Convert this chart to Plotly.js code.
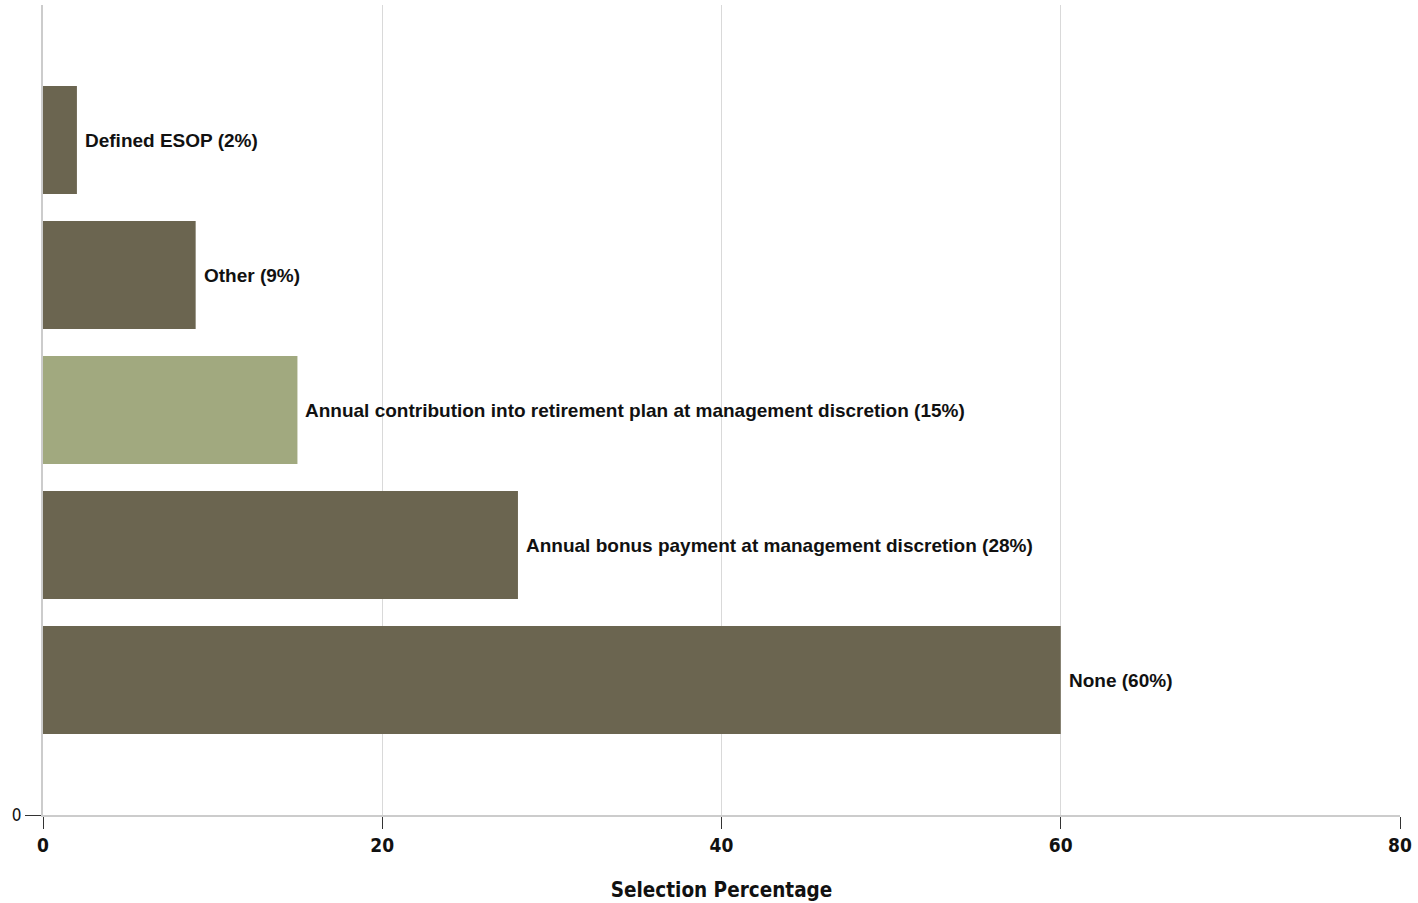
<!DOCTYPE html>
<html>
<head>
<meta charset="utf-8">
<script src="https://cdn.plot.ly/plotly-3.0.1.min.js"></script>
<style>html,body{margin:0;padding:0;background:#fff;}#chart{width:1418px;height:903px;}</style>
</head>
<body>
<div id="chart"></div>
<script>
const categories = ["None", "Annual bonus payment at management discretion", "Annual contribution into retirement plan at management discretion", "Other", "Defined ESOP"];
const values = [60, 28, 15, 9, 2];
const positions = [1, 2, 3, 4, 5];
const barColors = ["#6b6550", "#6b6550", "#a1a97f", "#6b6550", "#6b6550"];
const xTicks = [0, 20, 40, 60, 80];

const labels = categories.map((c, i) => c + " (" + values[i] + "%)");

const trace = {
  type: "bar",
  orientation: "h",
  x: values,
  y: positions,
  width: 0.8,
  marker: { color: barColors },
  cliponaxis: false,
  hoverinfo: "none"
};

const annotations = labels.map((t, i) => ({
  x: values[i],
  y: positions[i],
  xref: "x",
  yref: "y",
  text: t,
  showarrow: false,
  xanchor: "left",
  yanchor: "middle",
  xshift: 6,
  font: { family: "Liberation Sans, Arial, sans-serif", size: 19, color: "#111", weight: "bold" }
}));

const layout = {
  width: 1418,
  height: 903,
  margin: { l: 43, r: 18, t: 5, b: 88 },
  paper_bgcolor: "#fff",
  plot_bgcolor: "#fff",
  showlegend: false,
  annotations: annotations,
  xaxis: {
    range: [0, 80],
    tickvals: xTicks,
    ticktext: xTicks.map(String),
    showgrid: true,
    gridcolor: "#d9d9d9",
    gridwidth: 1,
    zeroline: false,
    showline: true,
    linecolor: "#cccccc",
    linewidth: 2,
    ticks: "outside",
    ticklen: 12,
    tickcolor: "#333",
    tickfont: { family: "DejaVu Sans Condensed, DejaVu Sans, sans-serif", size: 19, color: "#111", weight: "bold" },
    title: { text: "Selection Percentage", standoff: 28, font: { family: "DejaVu Sans Condensed, DejaVu Sans, sans-serif", size: 20.5, color: "#111", weight: "bold" } },
    fixedrange: true
  },
  yaxis: {
    range: [0, 6],
    tickvals: [0],
    ticktext: ["0"],
    showgrid: false,
    zeroline: false,
    showline: true,
    linecolor: "#cccccc",
    linewidth: 2,
    ticks: "outside",
    ticklen: 16,
    tickcolor: "#333",
    tickfont: { family: "DejaVu Sans Condensed, DejaVu Sans, sans-serif", size: 17, color: "#111" },
    fixedrange: true
  }
};

Plotly.newPlot("chart", [trace], layout, { displayModeBar: false, staticPlot: true });
</script>
</body>
</html>
